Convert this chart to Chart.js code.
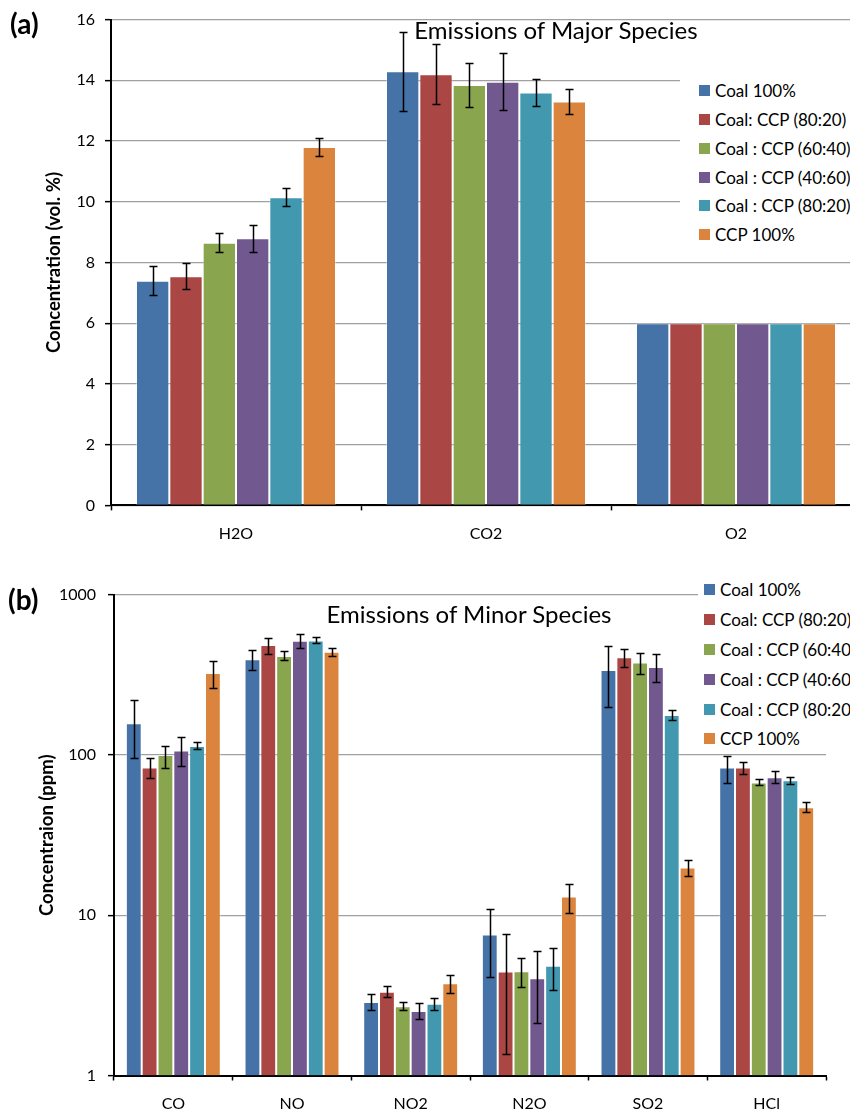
<!DOCTYPE html>
<html>
<head>
<meta charset="utf-8">
<script src="https://cdn.jsdelivr.net/npm/chart.js@4.4.1/dist/chart.umd.min.js"></script>
<style>
    html, body { margin: 0; padding: 0; background: #fff; }
    body { width: 850px; height: 1112px; overflow: hidden; position: relative; font-family: Lato, 'Open Sans', sans-serif; color: #000; }
    .panel { position: absolute; left: 0; }
    #panel-a { top: 0; width: 870px; height: 560px; }
    #panel-b { top: 560px; width: 850px; height: 552px; }
    .tag { position: absolute; font-weight: bold; font-size: 28px; line-height: 1; transform: translateY(-50%); }
    .title { position: absolute; font-size: 24px; white-space: nowrap; line-height: 1; transform: translate(-50%, -50%); }
    .legend { position: absolute; background: #fff; white-space: nowrap; font-size: 17px; }
    .legend .row { position: absolute; display: flex; align-items: center; height: 22px; transform: translateY(-50%); }
    .legend .sw { width: 11px; height: 11px; margin-right: 5px; }
</style>
</head>
<body>
<div class="panel" id="panel-a"><canvas id="chart-a" width="870" height="560"></canvas></div>
<div class="panel" id="panel-b"><canvas id="chart-b" width="850" height="552"></canvas></div>

<div class="tag" style="left:10px; top:23px;">(a)</div>
<div class="tag" style="left:8px; top:599px;">(b)</div>
<div class="title" style="left:556px; top:30px;">Emissions of Major Species</div>
<div class="title" style="left:469px; top:614px;">Emissions of Minor Species</div>
<div class="legend" id="legend-a" style="left:680px; top:62px; width:190px; height:190px;"></div>
<div class="legend" id="legend-b" style="left:698px; top:572px; width:170px; height:180px;"></div>

<script>
// Series shared by both panels
const seriesNames = ['Coal 100%', 'Coal: CCP (80:20)', 'Coal : CCP (60:40)', 'Coal : CCP (40:60)', 'Coal : CCP (80:20)', 'CCP 100%'];
const seriesColors = ['#4572A7', '#AA4643', '#89A54E', '#71588F', '#4198AF', '#DB843D'];

// (a) major species, vol. %
const majorCategories = ['H2O', 'CO2', 'O2'];
const majorCoal100 = [7.4, 14.3, 6.0];
const majorCoal8020 = [7.55, 14.2, 6.0];
const majorCoal6040 = [8.65, 13.85, 6.0];
const majorCoal4060 = [8.8, 13.95, 6.0];
const majorCoal8020b = [10.15, 13.6, 6.0];
const majorCcp100 = [11.8, 13.3, 6.0];
// +/- error, null = no bar
const majorErrCoal100 = [0.47, 1.3, null];
const majorErrCoal8020 = [0.43, 0.98, null];
const majorErrCoal6040 = [0.31, 0.73, null];
const majorErrCoal4060 = [0.45, 0.94, null];
const majorErrCoal8020b = [0.3, 0.43, null];
const majorErrCcp100 = [0.3, 0.42, null];
const majorTicks = [0, 2, 4, 6, 8, 10, 12, 14, 16];

// (b) minor species, ppm
const minorCategories = ['CO', 'NO', 'NO2', 'N2O', 'SO2', 'HCl'];
const minorCoal100 = [158, 396, 2.88, 7.6, 340, 83.6];
const minorCoal8020 = [83.6, 486, 3.33, 4.46, 408, 83.6];
const minorCoal6040 = [100, 416, 2.71, 4.48, 379, 67.5];
const minorCoal4060 = [107, 518, 2.53, 4.04, 355, 72.8];
const minorCoal8020b = [114, 520, 2.8, 4.85, 178, 69.6];
const minorCcp100 = [326, 442, 3.77, 13.1, 19.9, 47.2];
// error bar ends (low / high)
const minorLowCoal100 = [96, 340, 2.57, 4.12, 199, 67.2];
const minorHighCoal100 = [221, 453, 3.23, 11.0, 481, 99];
const minorLowCoal8020 = [71.7, 429, 3.07, 1.37, 355, 76.4];
const minorHighCoal8020 = [95.7, 536, 3.6, 7.59, 460, 91];
const minorLowCoal6040 = [83.2, 390, 2.57, 3.57, 323, 64.9];
const minorHighCoal6040 = [114, 448, 2.88, 5.39, 433, 71];
const minorLowCoal4060 = [85.7, 467, 2.25, 2.14, 285, 67.2];
const minorHighCoal4060 = [129, 566, 2.85, 5.95, 427, 79.2];
const minorLowCoal8020b = [109, 502, 2.58, 3.43, 166, 66.2];
const minorHighCoal8020b = [121, 547, 3.03, 6.28, 190, 72.8];
const minorLowCcp100 = [262, 418, 3.28, 10.4, 17.7, 44];
const minorHighCcp100 = [388, 467, 4.27, 15.7, 22.1, 50.6];
const minorTicks = [1, 10, 100, 1000];

const FONT = 'Lato, "Open Sans", sans-serif';

// Error bars drawn from the dataset's errLow / errHigh through the y scale
const errorBars = {
    id: 'errorBars',
    afterDatasetsDraw(chart) {
        const ctx = chart.ctx;
        const yScale = chart.scales.y;
        ctx.save();
        ctx.strokeStyle = '#000';
        ctx.lineWidth = 1.5;
        chart.data.datasets.forEach((ds, i) => {
            const meta = chart.getDatasetMeta(i);
            meta.data.forEach((bar, j) => {
                const lo = ds.errLow[j];
                const hi = ds.errHigh[j];
                if (lo == null || hi == null) return;
                const yLo = Math.round(yScale.getPixelForValue(lo)) + 0.5;
                const yHi = Math.round(yScale.getPixelForValue(hi)) + 0.5;
                const x = Math.round(bar.x) + 0.5;
                ctx.beginPath();
                ctx.moveTo(x, yLo); ctx.lineTo(x, yHi);
                ctx.moveTo(x - 4, yLo); ctx.lineTo(x + 4, yLo);
                ctx.moveTo(x - 4, yHi); ctx.lineTo(x + 4, yHi);
                ctx.stroke();
            });
        });
        ctx.restore();
    }
};

function buildDatasets(values, lows, highs) {
    return values.map((v, i) => ({
        label: seriesNames[i],
        data: v,
        backgroundColor: seriesColors[i],
        borderColor: 'rgba(255,255,255,0.35)',
        borderWidth: { left: 1, right: 1, top: 1, bottom: 0 },
        errLow: lows[i],
        errHigh: highs[i],
        categoryPercentage: 0.8,
        barPercentage: 1.0
    }));
}

function buildLegend(id, rowTop, rowStep, swLeft) {
    const box = document.getElementById(id);
    seriesNames.forEach((name, i) => {
        const row = document.createElement('div');
        row.className = 'row';
        row.style.top = (rowTop + i * rowStep) + 'px';
        row.style.left = swLeft + 'px';
        const sw = document.createElement('span');
        sw.className = 'sw';
        sw.style.background = seriesColors[i];
        const txt = document.createElement('span');
        txt.textContent = name;
        row.appendChild(sw);
        row.appendChild(txt);
        box.appendChild(row);
    });
}

function axisOptions(cfg) {
    return {
        x: {
            offset: true,
            grid: { offset: true, drawOnChartArea: false, drawTicks: true, tickLength: 5, tickColor: '#000', tickWidth: 1.5 },
            border: { color: '#000', width: 2 },
            ticks: { color: '#000', font: { family: FONT, size: 16 }, padding: cfg.xPad, maxRotation: 0 },
            afterFit: (scale) => { scale.height = cfg.xHeight; }
        },
        y: cfg.y
    };
}

// Panel (a)
const majorValues = [majorCoal100, majorCoal8020, majorCoal6040, majorCoal4060, majorCoal8020b, majorCcp100];
const majorErrs = [majorErrCoal100, majorErrCoal8020, majorErrCoal6040, majorErrCoal4060, majorErrCoal8020b, majorErrCcp100];
const majorLows = majorValues.map((v, i) => v.map((x, j) => majorErrs[i][j] == null ? null : x - majorErrs[i][j]));
const majorHighs = majorValues.map((v, i) => v.map((x, j) => majorErrs[i][j] == null ? null : x + majorErrs[i][j]));

new Chart(document.getElementById('chart-a'), {
    type: 'bar',
    data: { labels: majorCategories, datasets: buildDatasets(majorValues, majorLows, majorHighs) },
    options: {
        responsive: false,
        animation: false,
        layout: { padding: { top: 17.6, right: 9, bottom: 0, left: 0 } },
        plugins: { legend: { display: false }, title: { display: false }, tooltip: { enabled: false } },
        scales: axisOptions({
            xPad: 14,
            xHeight: 54.6,
            y: {
                min: 0,
                max: 16,
                afterBuildTicks: (scale) => { scale.ticks = majorTicks.map(v => ({ value: v })); },
                grid: { color: '#a0a0a0', lineWidth: 1.3, tickLength: 6, tickColor: '#000', tickWidth: 1.5 },
                border: { color: '#000', width: 2 },
                ticks: { color: '#000', font: { family: FONT, size: 16 }, padding: 10 },
                title: { display: true, text: 'Concentration (vol. %)', color: '#000', font: { family: FONT, size: 18.5, weight: 'bold' }, padding: { top: 43, bottom: 0 } },
                afterFit: (scale) => { scale.width = 111; }
            }
        })
    },
    plugins: [errorBars]
});

// Panel (b)
const minorValues = [minorCoal100, minorCoal8020, minorCoal6040, minorCoal4060, minorCoal8020b, minorCcp100];
const minorLows = [minorLowCoal100, minorLowCoal8020, minorLowCoal6040, minorLowCoal4060, minorLowCoal8020b, minorLowCcp100];
const minorHighs = [minorHighCoal100, minorHighCoal8020, minorHighCoal6040, minorHighCoal4060, minorHighCoal8020b, minorHighCcp100];

new Chart(document.getElementById('chart-b'), {
    type: 'bar',
    data: { labels: minorCategories, datasets: buildDatasets(minorValues, minorLows, minorHighs) },
    options: {
        responsive: false,
        animation: false,
        layout: { padding: { top: 34.9, right: 24, bottom: 0, left: 0 } },
        plugins: { legend: { display: false }, title: { display: false }, tooltip: { enabled: false } },
        scales: axisOptions({
            xPad: 14,
            xHeight: 36.5,
            y: {
                type: 'logarithmic',
                min: 1,
                max: 1000,
                afterBuildTicks: (scale) => { scale.ticks = minorTicks.map(v => ({ value: v })); },
                grid: { color: '#a0a0a0', lineWidth: 1.3, tickLength: 6, tickColor: '#000', tickWidth: 1.5 },
                border: { color: '#000', width: 2 },
                ticks: { color: '#000', font: { family: FONT, size: 16 }, padding: 12, callback: (v) => String(v) },
                title: { display: true, text: 'Concentraion (ppm)', color: '#000', font: { family: FONT, size: 18.5, weight: 'bold' }, padding: { top: 35.5, bottom: 0 } },
                afterFit: (scale) => { scale.width = 114; }
            }
        })
    },
    plugins: [errorBars]
});

buildLegend('legend-a', 28.3, 28.9, 19);
buildLegend('legend-b', 17.4, 29.9, 6);
</script>
</body>
</html>
